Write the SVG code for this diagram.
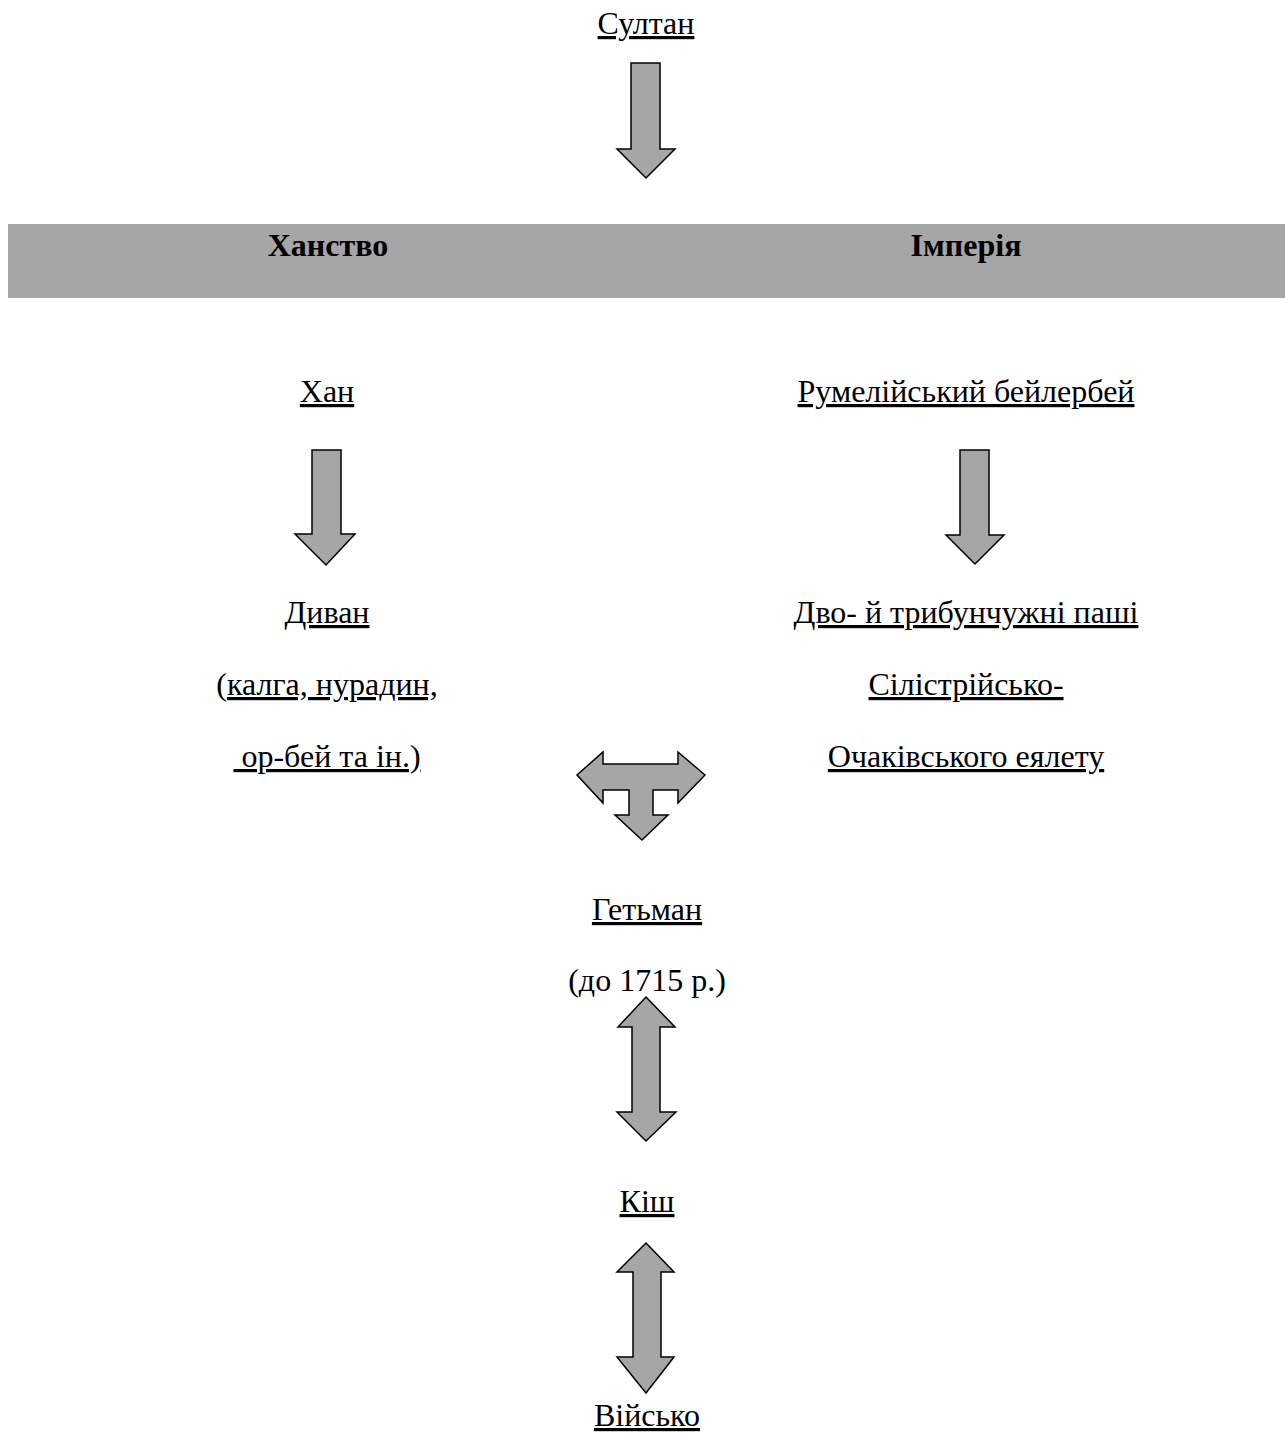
<svg xmlns="http://www.w3.org/2000/svg" width="1285" height="1438" viewBox="0 0 1285 1438">
<style>
  text { font-family: "Liberation Serif", "Times New Roman", serif; font-size: 32px; fill: #000; text-anchor: middle; white-space: pre; }
  .u { text-decoration: underline; }
  .b { font-weight: bold; }
  .arrow { fill: #a6a6a6; stroke: #000; stroke-width: 1.5; stroke-linejoin: miter; }
</style>
<rect width="1285" height="1438" fill="#fff"/>
<g id="bar">
  <rect x="8" y="224" width="1277" height="74" fill="#a6a6a6"/>
  <text class="b" x="328" y="256">Ханство</text>
  <text class="b" x="966" y="256">Імперія</text>
</g>
<g id="sultan"><text class="u" x="646" y="34">Султан</text></g>
<g id="khan"><text class="u" x="327" y="402">Хан</text></g>
<g id="beylerbey"><text class="u" x="966" y="402">Румелійський бейлербей</text></g>
<g id="divan">
  <text class="u" x="327" y="623">Диван</text>
  <text x="327" y="695">(<tspan class="u">калга, нурадин,</tspan></text>
  <text class="u" x="327" y="767"> ор-бей та ін.)</text>
</g>
<g id="pashas">
  <text class="u" x="966" y="623">Дво- й трибунчужні паші</text>
  <text class="u" x="966" y="695">Сілістрійсько-</text>
  <text class="u" x="966" y="767">Очаківського еялету</text>
</g>
<g id="hetman">
  <text class="u" x="647" y="920">Гетьман</text>
  <text x="647" y="991">(до 1715 р.)</text>
</g>
<g id="kish"><text class="u" x="647" y="1212">Кіш</text></g>
<g id="army"><text class="u" x="647" y="1426">Військо</text></g>
<g id="connectors">
  <polygon class="arrow" points="631,63 660,63 660,149 675,149 646,178 617,149 631,149"/>
  <polygon class="arrow" points="312,450 341,450 341,534 355,534 326,565 295,534 312,534"/>
  <polygon class="arrow" points="960,450 989,450 989,535 1004,535 975,564 946,535 960,535"/>
  <polygon class="arrow" points="705,775 678,803 678,790 653,790 653,815 668,815 642,840 615,815 629,815 629,790 603,790 603,803 577,775 603,752 603,764 678,764 678,752"/>
  <polygon class="arrow" points="646,997 675,1027 660,1027 660,1112 676,1112 646,1141 617,1112 632,1112 632,1027 618,1027"/>
  <polygon class="arrow" points="646,1243 674,1272 661,1272 661,1357 674,1357 646,1393 617,1357 633,1357 633,1272 617,1272"/>
</g>
</svg>
